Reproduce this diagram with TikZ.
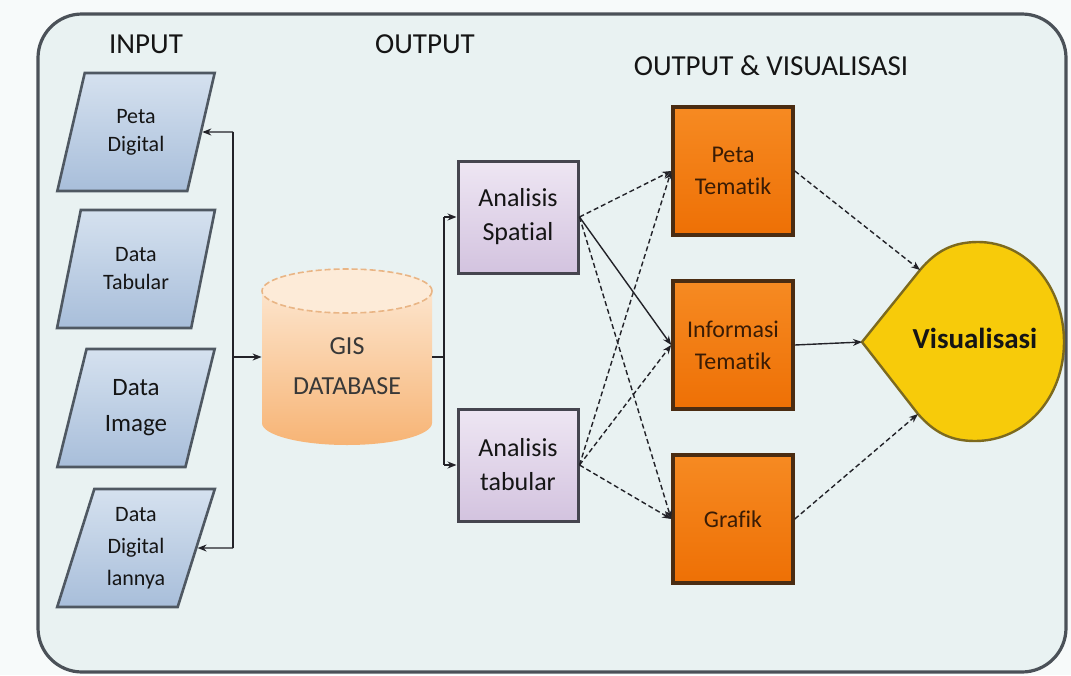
\documentclass[tikz,border=0pt]{standalone}
\usepackage{fontspec}
\setmainfont{Carlito}[Ligatures=NoCommon]
\usetikzlibrary{shapes.geometric,arrows.meta}
\definecolor{bgout}{HTML}{F7FAFA}
\definecolor{bgin}{HTML}{E9F2F2}
\definecolor{framec}{HTML}{4B5158}
\definecolor{parTop}{HTML}{D5E1EF}
\definecolor{parBot}{HTML}{A8BEDA}
\definecolor{parBorder}{HTML}{4F5862}
\definecolor{lavTop}{HTML}{EEE6F3}
\definecolor{lavBot}{HTML}{D3C3DF}
\definecolor{boxBorder}{HTML}{45454F}
\definecolor{orTop}{HTML}{F68A22}
\definecolor{orBot}{HTML}{EE7005}
\definecolor{orBorder}{HTML}{4A2C12}
\definecolor{orText}{HTML}{3A1C05}
\definecolor{dbTop}{HTML}{FDEBD8}
\definecolor{dbBot}{HTML}{F7B475}
\definecolor{dbEdge}{HTML}{E9B585}
\definecolor{visFill}{HTML}{F7CB0A}
\definecolor{visBorder}{HTML}{7D6A1E}
\definecolor{txt}{HTML}{151515}
\definecolor{linec}{HTML}{222228}
\begin{document}
\begin{tikzpicture}[x=0.5pt,y=-0.5pt,
  inbox/.style={trapezium, trapezium left angle=72, trapezium right angle=108,
    trapezium stretches=true, minimum width=79pt, minimum height=59pt,
    top color=parTop, bottom color=parBot, draw=parBorder, line width=1.3pt,
    align=center, text=txt, inner sep=1pt},
  anbox/.style={rectangle, minimum width=60pt, minimum height=56pt,
    top color=lavTop, bottom color=lavBot, draw=boxBorder, line width=1.5pt,
    align=center, text=txt, font=\fontsize{13}{17}\selectfont},
  orbox/.style={rectangle, minimum width=60pt, minimum height=64pt,
    top color=orTop, bottom color=orBot, draw=orBorder, line width=1.8pt,
    align=center, text=orText, font=\fontsize{12}{16}\selectfont},
  title/.style={text=txt, font=\fontsize{14.5}{17}\selectfont, inner sep=0pt},
  conn/.style={draw=linec, line width=0.7pt},
  arr/.style={conn, -{Stealth[length=4.5pt,width=3.5pt]}},
  darr/.style={arr, dash pattern=on 2.5pt off 1.5pt},
]
% background and frame
\path[fill=bgout] (0,0) rectangle (1071,675);
\draw[fill=bgin, draw=framec, line width=1.6pt, rounded corners=22pt] (38,14) rectangle (1066,672);

% titles
\node[title] (tin) at (146,44) {INPUT};
\node[title] (tout) at (425,44) {OUTPUT};
\node[title] (tvis) at (771,66) {OUTPUT \& VISUALISASI};

% input parallelograms
\node[inbox, font=\fontsize{11}{14}\selectfont] (p1) at (136,132) {Peta\\Digital};
\node[inbox, font=\fontsize{11}{14}\selectfont] (p2) at (136,269) {Data\\Tabular};
\node[inbox, font=\fontsize{12.5}{18}\selectfont] (p3) at (136,408) {Data\\Image};
\node[inbox, font=\fontsize{11}{16}\selectfont] (p4) at (136,548) {Data\\Digital\\lannya};

% database cylinder
\path[top color=dbTop, bottom color=dbBot]
  (262,291) -- (262,423) .. controls (262,435) and (300,445) .. (347,445)
  .. controls (394,445) and (432,435) .. (432,423) -- (432,291)
  .. controls (432,279) and (394,269) .. (347,269)
  .. controls (300,269) and (262,279) .. (262,291) -- cycle;
\draw[fill=dbTop, draw=dbEdge, line width=0.8pt, dash pattern=on 3pt off 1.5pt]
  (347,291) ellipse [x radius=85, y radius=22];
\node[minimum width=85pt, minimum height=88pt, inner sep=0pt] (db) at (347,357) {};
\node[align=center, text=txt!85, font=\fontsize{13}{20}\selectfont] (dbt) at (347,366) {GIS\\DATABASE};

% analysis boxes
\node[anbox] (as) at (518,217) {Analisis\\Spatial};
\node[anbox] (at) at (518,465) {Analisis\\tabular};

% orange output boxes
\node[orbox] (pt) at (733,171) {Peta\\Tematik};
\node[orbox] (it) at (733,345) {Informasi\\Tematik};
\node[orbox] (gr) at (733,519) {Grafik};

% visualisasi drop
\draw[fill=visFill, draw=visBorder, line width=1.2pt]
  (862,342) -- (920,270) .. controls (936,251) and (953,242) .. (978,242)
  .. controls (1027,242) and (1064,287) .. (1064,342)
  .. controls (1064,397) and (1026,441) .. (975,441)
  .. controls (950,441) and (934,432) .. (918,414) -- cycle;
\node[text=txt, font=\bfseries\fontsize{14.5}{17}\selectfont] (vis) at (975,338) {Visualisasi};
\coordinate (v1) at (920,270);
\coordinate (v2) at (862,342);
\coordinate (v3) at (918,414);

% input bus
\coordinate (b1) at (233,132);
\coordinate (b2) at (233,357);
\coordinate (b4) at (233,548);
\draw[conn] (b1) -- (b4);
\draw[arr] (b1) -- (p1);
\draw[arr] (b4) -- (p4);
\draw[arr] (b2) -- (db);

% database to analyses
\coordinate (j0) at (444,357);
\coordinate (j1) at (444,217);
\coordinate (j2) at (444,465);
\draw[conn] (db.east |- j0) -- (j0);
\draw[conn] (j1) -- (j2);
\draw[arr] (j1) -- (as);
\draw[arr] (j2) -- (at);

% analyses to outputs
\draw[darr] (as.east) -- (pt.west);
\draw[arr] (as.east) -- (it.west);
\draw[darr] (as.east) -- (gr.west);
\draw[darr] (at.east) -- (pt.west);
\draw[darr] (at.east) -- (it.west);
\draw[darr] (at.east) -- (gr.west);

% outputs to visualisasi
\draw[darr] (pt.east) -- (v1);
\draw[arr] (it.east) -- (v2);
\draw[darr] (gr.east) -- (v3);
\end{tikzpicture}
\end{document}
